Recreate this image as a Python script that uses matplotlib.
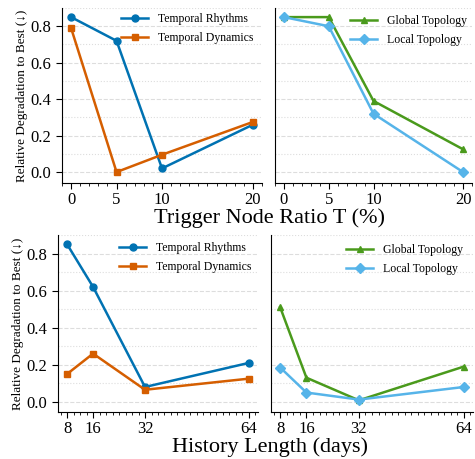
import matplotlib
matplotlib.use("Agg")
import matplotlib.pyplot as plt
from matplotlib.ticker import MultipleLocator

plt.rcParams['font.family'] = ['Liberation Serif', 'DejaVu Serif']

# trigger node ratio (%)
ratio = [0, 5, 10, 20]
ratio_rhythms = [0.85, 0.72, 0.02, 0.26]
ratio_dynamics = [0.79, 0.00, 0.095, 0.275]
ratio_global = [0.85, 0.85, 0.39, 0.125]
ratio_local = [0.85, 0.80, 0.32, 0.00]

# history length (days)
history = [8, 16, 32, 64]
hist_rhythms = [0.85, 0.62, 0.08, 0.21]
hist_dynamics = [0.15, 0.26, 0.065, 0.125]
hist_global = [0.51, 0.13, 0.008, 0.19]
hist_local = [0.185, 0.05, 0.012, 0.08]

C_BLUE = '#0072B2'
C_ORANGE = '#D55E00'
C_GREEN = '#4A9A1C'
C_LIGHT = '#56B4E9'

fig = plt.figure(figsize=(4.75, 4.59), dpi=100)
W, H = 475, 459


def add_ax(x0, y0, x1, y1):
    return fig.add_axes([x0 / W, 1 - y1 / H, (x1 - x0) / W, (y1 - y0) / H])


ax_tl = add_ax(62, 8, 262, 183)
ax_tr = add_ax(275, 8, 472, 183)
ax_bl = add_ax(58, 235, 258, 412)
ax_br = add_ax(271, 235, 473, 412)


def style(ax, show_y, xminor):
    ax.spines['top'].set_visible(False)
    ax.spines['right'].set_visible(False)
    ax.yaxis.set_major_locator(MultipleLocator(0.2))
    ax.yaxis.set_minor_locator(MultipleLocator(0.1))
    ax.xaxis.set_minor_locator(MultipleLocator(xminor))
    ax.grid(True, which='major', axis='y', linestyle='--', color='#dddddd', linewidth=0.8)
    ax.grid(True, which='minor', axis='y', linestyle=':', color='#dddddd', linewidth=0.8)
    ax.set_axisbelow(True)
    ax.tick_params(axis='both', which='major', labelsize=12, direction='out', length=4)
    ax.tick_params(axis='x', which='major', pad=2.5)
    ax.tick_params(axis='y', which='minor', length=0)
    ax.tick_params(axis='x', which='minor', length=2)
    if not show_y:
        ax.tick_params(axis='y', which='both', left=False, labelleft=False)
    else:
        ax.set_ylabel('Relative Degradation to Best (↓)', fontsize=9.5, labelpad=2)


kw = dict(linewidth=1.8, markersize=5)

ax_tl.plot(ratio, ratio_rhythms, color=C_BLUE, marker='o', label='Temporal Rhythms', **kw)
ax_tl.plot(ratio, ratio_dynamics, color=C_ORANGE, marker='s', label='Temporal Dynamics', **kw)
ax_tr.plot(ratio, ratio_global, color=C_GREEN, marker='^', label='Global Topology', **kw)
ax_tr.plot(ratio, ratio_local, color=C_LIGHT, marker='D', label='Local Topology', **kw)

ax_bl.plot(history, hist_rhythms, color=C_BLUE, marker='o', label='Temporal Rhythms', **kw)
ax_bl.plot(history, hist_dynamics, color=C_ORANGE, marker='s', label='Temporal Dynamics', **kw)
ax_br.plot(history, hist_global, color=C_GREEN, marker='^', label='Global Topology', **kw)
ax_br.plot(history, hist_local, color=C_LIGHT, marker='D', label='Local Topology', **kw)

for ax in (ax_tl, ax_tr):
    ax.set_xlim(-1, 21)
    ax.set_xticks(ratio)
    ax.set_ylim(-0.06, 0.9)
for ax in (ax_bl, ax_br):
    ax.set_xlim(5.2, 66.8)
    ax.set_xticks(history)
    ax.set_ylim(-0.055, 0.9)

style(ax_tl, True, 1)
style(ax_tr, False, 1)
style(ax_bl, True, 2)
style(ax_br, False, 2)

# legend anchors (left edge of handle, top of first row) in pixels
legend_pos = {ax_tl: (121, 13), ax_tr: (350, 15), ax_bl: (119, 242), ax_br: (346, 244)}
for ax, (lx, ly) in legend_pos.items():
    ax.legend(loc='upper left', bbox_to_anchor=(lx / W, 1 - ly / H),
              bbox_transform=fig.transFigure, frameon=False, fontsize=8.5,
              borderpad=0, borderaxespad=0, handlelength=2.3,
              handletextpad=0.8, labelspacing=0.6)

fig.text(270 / W, 1 - 218 / H, 'Trigger Node Ratio T (%)', ha='center', va='center', fontsize=16)
fig.text(270 / W, 1 - 447 / H, 'History Length (days)', ha='center', va='center', fontsize=16)

fig.savefig('out.png', dpi=100)
